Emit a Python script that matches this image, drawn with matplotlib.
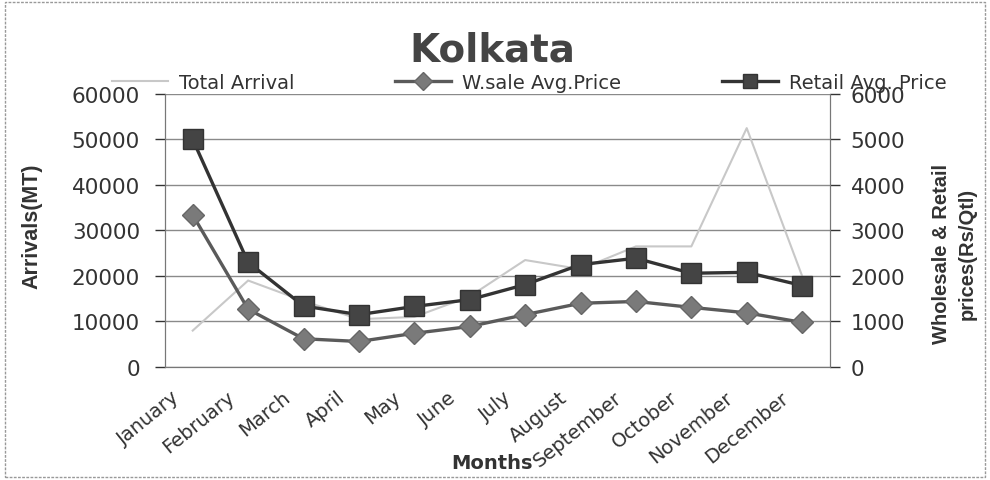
import matplotlib
matplotlib.use("Agg")
import matplotlib.pyplot as plt
from matplotlib.patches import Rectangle
from matplotlib.lines import Line2D
from matplotlib.transforms import ScaledTranslation

months = ["January", "February", "March", "April", "May", "June", "July",
          "August", "September", "October", "November", "December"]
total_arrival = [8000, 19000, 14500, 10500, 11000, 15500, 23500, 21500, 26500, 26500, 52500, 20000]
wsale_price = [3340, 1270, 620, 560, 740, 890, 1150, 1400, 1440, 1310, 1190, 980]
retail_price = [5000, 2300, 1340, 1150, 1330, 1480, 1810, 2250, 2390, 2060, 2080, 1790]
left_ticks = [0, 10000, 20000, 30000, 40000, 50000, 60000]
right_ticks = [0, 1000, 2000, 3000, 4000, 5000, 6000]

plt.rcParams['font.family'] = ['DejaVu Sans']

fig = plt.figure(figsize=(9.9, 4.81), dpi=100)
ax = fig.add_axes([0.1667, 0.235, 0.6715, 0.5675])
ax2 = ax.twinx()

x = list(range(len(months)))
ax.plot(x, total_arrival, color='#c8c8c8', lw=1.5, zorder=2)
ax2.plot(x, wsale_price, color='#5a5a5a', lw=2.4, marker='D', markersize=11,
         markerfacecolor='#7a7a7a', markeredgecolor='#666666')
ax2.plot(x, retail_price, color='#333333', lw=2.4, marker='s', markersize=14,
         markerfacecolor='#444444', markeredgecolor='#333333')

ax.set_xlim(-0.5, len(months) - 0.5)
ax.set_ylim(0, 60000)
ax2.set_ylim(0, 6000)
ax.set_yticks(left_ticks)
ax2.set_yticks(right_ticks)
ax.set_xticks(x)
ax.set_xticklabels(months, rotation=39, ha='right', va='center', rotation_mode='anchor',
                   fontsize=14, color='#333333')
ax.tick_params(axis='x', length=0, pad=20)
shift = ScaledTranslation(-0.16, 0, fig.dpi_scale_trans)
for lab in ax.get_xticklabels():
    lab.set_transform(lab.get_transform() + shift)
ax.tick_params(axis='y', labelsize=15.5, colors='#333333', length=7, width=1, pad=11)
ax2.tick_params(axis='y', labelsize=15.5, colors='#333333', length=7, width=1, pad=8)

ax.grid(axis='y', color='#8a8a8a', lw=1)
ax.set_axisbelow(True)
for a in (ax, ax2):
    a.spines['top'].set_visible(False)
    for s in ('left', 'right', 'bottom'):
        a.spines[s].set_color('#777777')

narrow = ['Liberation Sans', 'DejaVu Sans']
fig.text(0.032, 0.53, 'Arrivals(MT)', rotation=90, ha='center', va='center',
         fontsize=15.5, fontweight='bold', color='#333333', family=narrow)
fig.text(0.964, 0.472, 'Wholesale & Retail\nprices(Rs/Qtl)', rotation=90, ha='center',
         va='center', fontsize=14.5, fontweight='bold', color='#333333', family=narrow,
         linespacing=1.45, multialignment='center')
fig.text(0.497, 0.037, 'Months', ha='center', va='center', fontsize=14,
         fontweight='bold', color='#333333')

fig.text(0.497, 0.895, 'Kolkata', ha='center', va='center', fontsize=28,
         fontweight='bold', color='#444444')

# legend entries placed individually
leg_handles = [
    Line2D([], [], color='#c8c8c8', lw=1.5),
    Line2D([], [], color='#5a5a5a', lw=2.4, marker='D', markersize=9,
           markerfacecolor='#7a7a7a', markeredgecolor='#666666'),
    Line2D([], [], color='#333333', lw=2.4, marker='s', markersize=10,
           markerfacecolor='#444444', markeredgecolor='#333333'),
]
leg_labels = ['Total Arrival', 'W.sale Avg.Price', 'Retail Avg. Price']
leg_x = [112, 395, 722]
for h, l, xp in zip(leg_handles, leg_labels, leg_x):
    fig.legend([h], [l], loc='center left', bbox_to_anchor=(xp / 990, 0.827),
               frameon=False, fontsize=14, handlelength=2.9, handletextpad=0.55,
               borderpad=0, borderaxespad=0, labelcolor='#333333')

fig.patches.append(Rectangle((0.005, 0.006), 0.99, 0.988, transform=fig.transFigure,
                             fill=False, edgecolor='#999999', lw=1, ls=(0, (2, 1))))

fig.savefig('out.png', dpi=100)
